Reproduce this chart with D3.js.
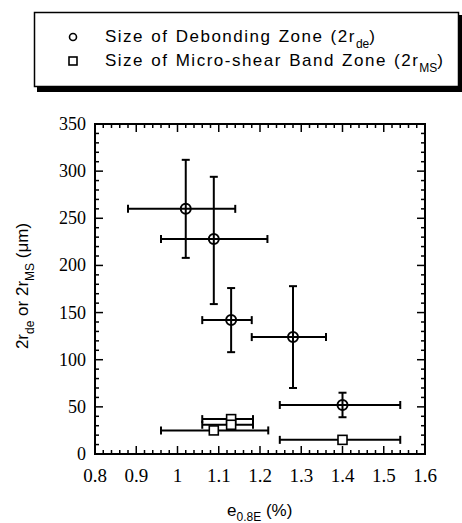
<!DOCTYPE html>
<html><head><meta charset="utf-8">
<script src="https://cdn.jsdelivr.net/npm/d3@7"></script>
<style>body{margin:0;background:#fff}svg{display:block}</style>
</head><body>
<script>
// Data
const debX =   [1.02, 1.088, 1.13, 1.28, 1.40];
const debY =   [260, 228, 142, 124, 52];
const debXlo = [0.88, 0.96, 1.06, 1.18, 1.248];
const debXhi = [1.14, 1.218, 1.18, 1.36, 1.54];
const debYlo = [208, 159, 108, 70, 39];
const debYhi = [312, 294, 176, 178, 65];

const msX =   [1.088, 1.13, 1.13, 1.40];
const msY =   [25, 37, 31, 15];
const msXlo = [0.96, 1.06, 1.06, 1.248];
const msXhi = [1.22, 1.183, 1.183, 1.54];

const xTicks = [0.8, 0.9, 1.0, 1.1, 1.2, 1.3, 1.4, 1.5, 1.6];
const xTickLabels = ["0.8","0.9","1","1.1","1.2","1.3","1.4","1.5","1.6"];
const yTicks = [0, 50, 100, 150, 200, 250, 300, 350];

const W = 462, H = 523;
const svg = d3.select("body").append("svg").attr("width", W).attr("height", H);
const L = 95, R = 425, T = 124, B = 454;
const x = d3.scaleLinear().domain([0.8, 1.6]).range([L, R]);
const y = d3.scaleLinear().domain([0, 350]).range([B, T]);

// Legend
const lg = svg.append("g");
lg.append("rect").attr("x", 37).attr("y", 15).attr("width", 425).attr("height", 77).attr("fill", "#000");
lg.append("rect").attr("x", 34.5).attr("y", 12.5).attr("width", 424).attr("height", 74).attr("fill", "#fff").attr("stroke", "#000").attr("stroke-width", 1.5);
const sans = "'Liberation Sans', Arial, Helvetica, sans-serif";
lg.append("circle").attr("cx", 73).attr("cy", 37).attr("r", 3.5).attr("fill", "none").attr("stroke", "#000").attr("stroke-width", 1.6);
lg.append("rect").attr("x", 69).attr("y", 57).attr("width", 8).attr("height", 8).attr("fill", "none").attr("stroke", "#000").attr("stroke-width", 1.6);
const t1 = lg.append("text").attr("x", 105).attr("y", 42).attr("font-family", sans).attr("font-size", 17)
  .attr("letter-spacing", 1.5).attr("word-spacing", 1).attr("fill", "#000");
t1.append("tspan").text("Size of Debonding Zone (2r");
t1.append("tspan").attr("dy", 6).attr("font-size", 12).attr("letter-spacing", 0).text("de");
t1.append("tspan").attr("dy", -6).text(")");
const t2 = lg.append("text").attr("x", 105).attr("y", 66).attr("font-family", sans).attr("font-size", 17)
  .attr("letter-spacing", 1.5).attr("word-spacing", 1).attr("fill", "#000");
t2.append("tspan").text("Size of Micro-shear Band Zone (2r");
t2.append("tspan").attr("dy", 6).attr("font-size", 12).attr("letter-spacing", 0).text("MS");
t2.append("tspan").attr("dy", -6).text(")");

// Frame
const g = svg.append("g");
g.append("rect").attr("x", L).attr("y", T).attr("width", R - L).attr("height", B - T)
  .attr("fill", "none").attr("stroke", "#000").attr("stroke-width", 2);

// Ticks (inward, all four sides)
const xMinor = d3.range(0, 41).map(i => 0.8 + i * 0.02);
const yMinor = d3.range(0, 36).map(i => i * 10);
function isMajorX(v) { return xTicks.some(t => Math.abs(t - v) < 1e-6); }
function isMajorY(v) { return v % 50 === 0; }
const tk = g.append("g").attr("stroke", "#000").attr("stroke-width", 1.5);
xMinor.forEach(v => {
  const len = isMajorX(v) ? 8 : 4;
  tk.append("line").attr("x1", x(v)).attr("x2", x(v)).attr("y1", B).attr("y2", B - len);
  tk.append("line").attr("x1", x(v)).attr("x2", x(v)).attr("y1", T).attr("y2", T + len);
});
yMinor.forEach(v => {
  const len = isMajorY(v) ? 8 : 4;
  tk.append("line").attr("y1", y(v)).attr("y2", y(v)).attr("x1", L).attr("x2", L + len);
  tk.append("line").attr("y1", y(v)).attr("y2", y(v)).attr("x1", R).attr("x2", R - len);
});

// Tick labels
const serif = "'Liberation Serif', 'Times New Roman', serif";
g.append("g").selectAll("text").data(xTicks).join("text")
  .attr("x", d => x(d)).attr("y", 482).attr("text-anchor", "middle")
  .attr("font-family", serif).attr("font-size", 19).text((d, i) => xTickLabels[i]);
g.append("g").selectAll("text").data(yTicks).join("text")
  .attr("x", 86).attr("y", d => y(d) + 6).attr("text-anchor", "end")
  .attr("font-family", serif).attr("font-size", 18).text(d => d);

// Axis titles
const xt = svg.append("text").attr("x", 227).attr("y", 516).attr("font-family", sans).attr("font-size", 17);
xt.append("tspan").text("e");
xt.append("tspan").attr("dy", 5).attr("font-size", 12).text("0.8E");
xt.append("tspan").attr("dy", -5).text(" (%)");
const yt = svg.append("text").attr("transform", "translate(28,286) rotate(-90)").attr("text-anchor", "middle")
  .attr("font-family", sans).attr("font-size", 17);
yt.append("tspan").text("2r");
yt.append("tspan").attr("dy", 6).attr("font-size", 12).text("de");
yt.append("tspan").attr("dy", -6).text(" or 2r");
yt.append("tspan").attr("dy", 6).attr("font-size", 12).text("MS");
yt.append("tspan").attr("dy", -6).text(" (\u03bcm)");

// Error bars
const eb = g.append("g").attr("stroke", "#000").attr("stroke-width", 2).attr("fill", "none");
const cap = 4;
function hbar(xl, xh, yv) {
  eb.append("line").attr("x1", x(xl)).attr("x2", x(xh)).attr("y1", y(yv)).attr("y2", y(yv));
  eb.append("line").attr("x1", x(xl)).attr("x2", x(xl)).attr("y1", y(yv) - cap).attr("y2", y(yv) + cap);
  eb.append("line").attr("x1", x(xh)).attr("x2", x(xh)).attr("y1", y(yv) - cap).attr("y2", y(yv) + cap);
}
function vbar(xv, yl, yh) {
  eb.append("line").attr("x1", x(xv)).attr("x2", x(xv)).attr("y1", y(yl)).attr("y2", y(yh));
  eb.append("line").attr("x1", x(xv) - cap).attr("x2", x(xv) + cap).attr("y1", y(yl)).attr("y2", y(yl));
  eb.append("line").attr("x1", x(xv) - cap).attr("x2", x(xv) + cap).attr("y1", y(yh)).attr("y2", y(yh));
}
debX.forEach((v, i) => { hbar(debXlo[i], debXhi[i], debY[i]); vbar(v, debYlo[i], debYhi[i]); });
msX.forEach((v, i) => { hbar(msXlo[i], msXhi[i], msY[i]); });

// Markers
g.append("g").selectAll("circle").data(debX).join("circle")
  .attr("cx", d => x(d)).attr("cy", (d, i) => y(debY[i])).attr("r", 5)
  .attr("fill", "none").attr("stroke", "#000").attr("stroke-width", 2);
g.append("g").selectAll("rect").data(msX).join("rect")
  .attr("x", d => x(d) - 4.5).attr("y", (d, i) => y(msY[i]) - 4.5).attr("width", 9).attr("height", 9)
  .attr("fill", "#fff").attr("stroke", "#000").attr("stroke-width", 1.6);
</script>
</body></html>
